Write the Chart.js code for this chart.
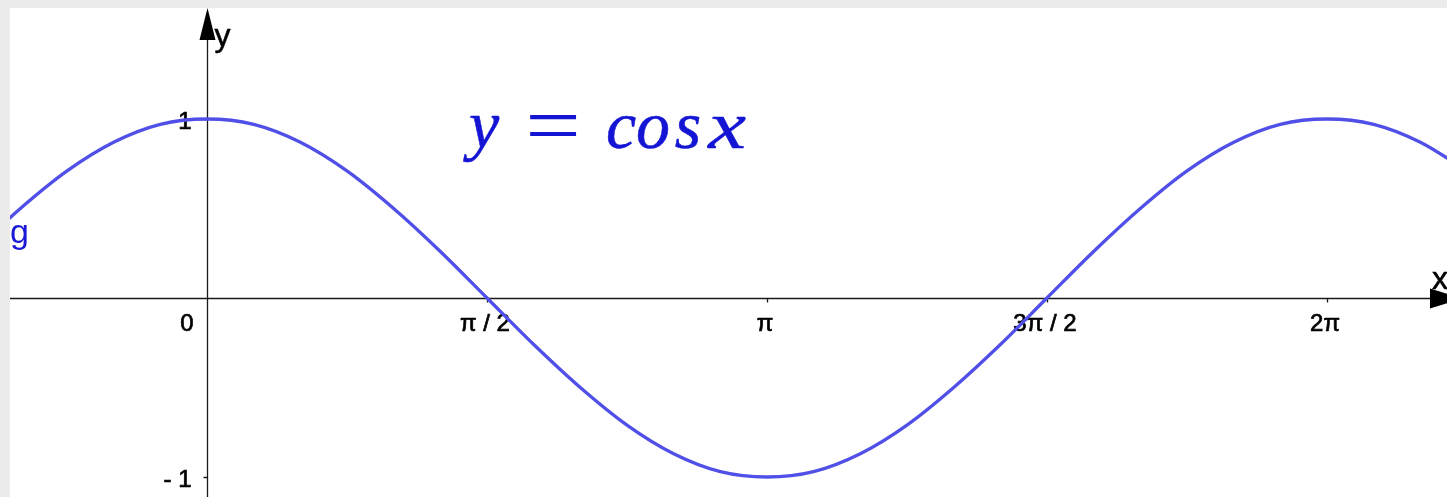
<!DOCTYPE html>
<html>
<head>
<meta charset="utf-8">
<title>y = cos x</title>
<script src="https://cdn.jsdelivr.net/npm/chart.js@4"></script>
<style>
  html, body { margin: 0; padding: 0; overflow: hidden; background: #ebebeb; }
  #cosChart { display: block; }
</style>
</head>
<body>
<canvas id="cosChart" width="1447" height="497"></canvas>
<script>
// x 값 (라디안, 15도 간격) 과 그림에서 읽은 y 값
const xValues = [-1.309, -1.047, -0.785, -0.524, -0.262, 0, 0.262, 0.524, 0.785, 1.047, 1.309,
  1.571, 1.833, 2.094, 2.356, 2.618, 2.880, 3.142, 3.403, 3.665, 3.927, 4.189, 4.451,
  4.712, 4.974, 5.236, 5.498, 5.760, 6.021, 6.283, 6.545, 6.807, 7.069];
const yValues = [0.26, 0.5, 0.71, 0.87, 0.97, 1, 0.97, 0.87, 0.71, 0.5, 0.26,
  0, -0.26, -0.5, -0.71, -0.87, -0.97, -1, -0.97, -0.87, -0.71, -0.5, -0.26,
  0, 0.26, 0.5, 0.71, 0.87, 0.97, 1, 0.97, 0.87, 0.71];

// 축 눈금
const xTickValues = [0, 1.5708, 3.1416, 4.7124, 6.2832];
const xTickLabels = ['0', 'π / 2', 'π', '3π / 2', '2π'];
const yTickValues = [1, -1];
const yTickLabels = ['1', '- 1'];

const cosCtx = document.getElementById('cosChart').getContext('2d');

// 글자를 약간 두껍게 (채우기 + 얇은 외곽선)
const boldText = (ctx, text, x, y, w) => {
  ctx.lineWidth = w;
  ctx.strokeStyle = ctx.fillStyle;
  ctx.strokeText(text, x, y);
  ctx.fillText(text, x, y);
};

/* 배경 + 좌표축 (GeoGebra 스타일) */
const axesPlugin = {
  id: 'axesPlugin',
  beforeDraw(chart) {
    const { ctx, chartArea: a } = chart;
    ctx.save();
    ctx.fillStyle = '#ebebeb';
    ctx.fillRect(0, 0, chart.width, chart.height);
    ctx.fillStyle = '#ffffff';
    ctx.fillRect(a.left, a.top, a.right - a.left, a.bottom - a.top);
    ctx.restore();
  },
  beforeDatasetsDraw(chart) {
    const { ctx, chartArea: a, scales } = chart;
    const x0 = Math.round(scales.x.getPixelForValue(0)) + 0.5;
    const y0 = Math.round(scales.y.getPixelForValue(0)) + 0.5;
    ctx.save();
    ctx.beginPath();
    ctx.rect(a.left, a.top, a.right - a.left, a.bottom - a.top);
    ctx.clip();

    ctx.strokeStyle = '#1a1a1a';
    ctx.lineWidth = 1.3;
    ctx.beginPath();
    ctx.moveTo(a.left, y0); ctx.lineTo(a.right, y0); // x축
    ctx.moveTo(x0, a.bottom); ctx.lineTo(x0, a.top + 20); // y축
    ctx.stroke();

    // 화살표
    ctx.fillStyle = '#000000';
    ctx.beginPath();
    ctx.moveTo(x0, a.top); ctx.lineTo(x0 - 8, a.top + 32); ctx.lineTo(x0 + 8, a.top + 32);
    ctx.closePath(); ctx.fill();
    ctx.beginPath();
    ctx.moveTo(a.right + 15, y0); ctx.lineTo(a.right - 17, y0 - 10); ctx.lineTo(a.right - 17, y0 + 10);
    ctx.closePath(); ctx.fill();

    // 눈금
    ctx.beginPath();
    xTickValues.forEach(v => {
      if (v === 0) return;
      const px = Math.round(scales.x.getPixelForValue(v)) + 0.5;
      ctx.moveTo(px, y0); ctx.lineTo(px, y0 + 4);
    });
    yTickValues.forEach(v => {
      const py = Math.round(scales.y.getPixelForValue(v)) + 0.5;
      ctx.moveTo(x0 - 4, py); ctx.lineTo(x0, py);
    });
    ctx.stroke();

    // 눈금 레이블
    ctx.fillStyle = '#000000';
    ctx.font = '24px "Liberation Sans", Arial, sans-serif';
    ctx.textBaseline = 'alphabetic';
    xTickValues.forEach((v, i) => {
      const px = scales.x.getPixelForValue(v);
      if (v === 0) {
        ctx.textAlign = 'right';
        boldText(ctx, xTickLabels[i], x0 - 14, y0 + 32, 0.7);
      } else {
        ctx.textAlign = 'center';
        boldText(ctx, xTickLabels[i], px - 2, y0 + 32, 0.7);
      }
    });
    ctx.textAlign = 'right';
    yTickValues.forEach((v, i) => {
      const py = scales.y.getPixelForValue(v);
      boldText(ctx, yTickLabels[i], x0 - 16, py + 10, 0.7);
    });

    // 축 이름
    ctx.font = '32px "Liberation Sans", Arial, sans-serif';
    ctx.textAlign = 'left';
    boldText(ctx, 'y', x0 + 7, a.top + 38, 0.5);
    boldText(ctx, 'x', a.right - 15, y0 - 10, 0.5);
    ctx.restore();
  },
  afterDraw(chart) {
    const { ctx } = chart;
    ctx.save();
    // 함수 이름
    ctx.fillStyle = '#1a1ad6';
    ctx.font = '34px "Liberation Sans", Arial, sans-serif';
    ctx.textAlign = 'left';
    ctx.fillText('g', 10, 243);

    // 수식
    ctx.fillStyle = '#1414d4';
    ctx.font = 'italic 68px "Liberation Serif", "Times New Roman", serif';
    ctx.textAlign = 'center';
    boldText(ctx, 'y', 484, 148, 0.5);
    ctx.font = '68px "Liberation Serif", "Times New Roman", serif';
    ctx.save();
    ctx.translate(553, 148);
    ctx.scale(1.45, 1.2);
    ctx.fillText('=', 0, 4);
    ctx.restore();
    ctx.font = 'italic 68px "Liberation Serif", "Times New Roman", serif';
    boldText(ctx, 'c', 621, 148, 0.5);
    boldText(ctx, 'o', 653, 148, 0.5);
    boldText(ctx, 's', 688, 148, 0.5);
    ctx.save();
    ctx.translate(727, 148);
    ctx.scale(1.25, 1);
    boldText(ctx, 'x', 0, 0, 0.5);
    ctx.restore();
    ctx.restore();
  }
};

const createCosChart = () => {
  const cosChart = new Chart(cosCtx, {
    type: 'line',
    data: {
      datasets: [
        {
          label: 'g',
          data: xValues.map((x, i) => ({ x: x, y: yValues[i] })),
          borderColor: '#5050e8',
          borderWidth: 3.3,
          pointRadius: 0,
          cubicInterpolationMode: 'monotone',
          fill: false
        }
      ]
    },
    options: {
      responsive: false,
      animation: false,
      devicePixelRatio: 1,
      plugins: {
        legend: { display: false },
        tooltip: { enabled: false },
        title: { display: false }
      },
      scales: {
        x: { type: 'linear', min: -1.1052, max: 6.9565, display: false },
        y: { type: 'linear', min: -1.1117, max: 1.620, display: false }
      },
      layout: {
        padding: { top: 8, bottom: 0, left: 10, right: 0 }
      }
    },
    plugins: [axesPlugin]
  });
};

createCosChart();
</script>
</body>
</html>
